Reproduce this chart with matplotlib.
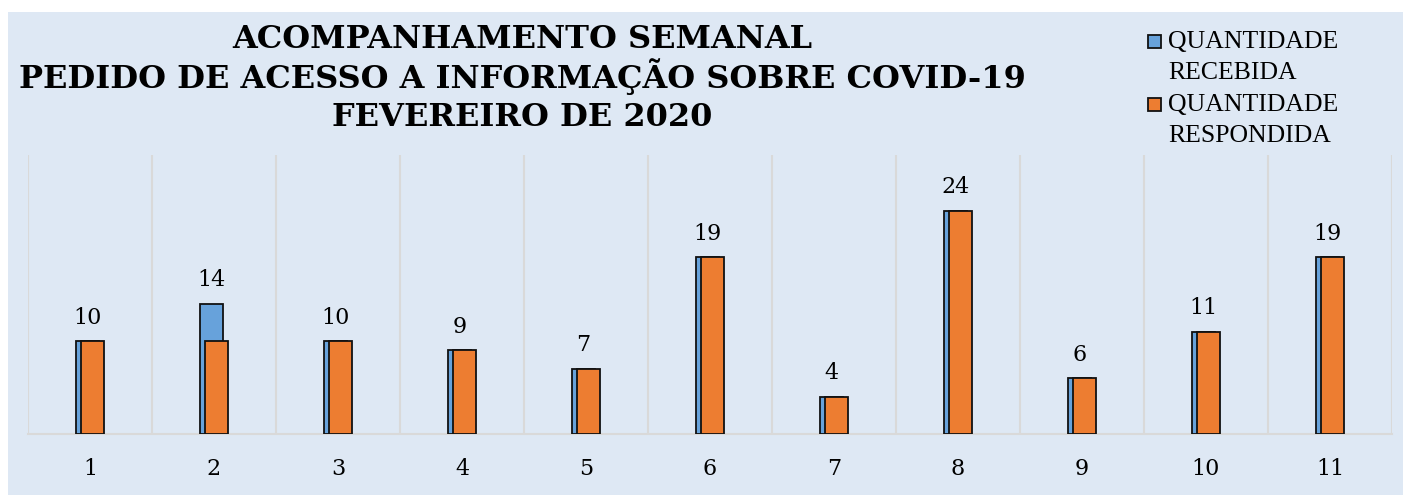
import matplotlib.pyplot as plt
from matplotlib.patches import Rectangle
import numpy as np

# weekly numbers, feb 2020
semanas = ['1', '2', '3', '4', '5', '6', '7', '8', '9', '10', '11']
recebida = [10, 14, 10, 9, 7, 19, 4, 24, 6, 11, 19]
respondida = [10, 10, 10, 9, 7, 19, 4, 24, 6, 11, 19]
titulo = ['ACOMPANHAMENTO SEMANAL',
          'PEDIDO DE ACESSO A INFORMAÇÃO SOBRE COVID-19',
          'FEVEREIRO DE 2020']
legendas = [['QUANTIDADE', 'RECEBIDA'], ['QUANTIDADE', 'RESPONDIDA']]

bg = '#dee8f4'
azul = '#67a2db'
laranja = '#ed7d31'
serif = ['DejaVu Serif']
times = ['Liberation Serif', 'DejaVu Serif']

W, H = 1403, 495
fig = plt.figure(figsize=(W / 100, H / 100), dpi=100)
fig.patch.set_facecolor('white')
fig.patches.append(Rectangle((8 / W, 0), 1, 1 - 12 / H, transform=fig.transFigure,
                             facecolor=bg, edgecolor='none', zorder=-10))

ax = fig.add_axes([28 / W, 61 / H, 1364 / W, 279 / H])
ax.set_facecolor(bg)

x = np.arange(len(semanas))
w = 0.185
d = 0.02
b1 = ax.bar(x - d, recebida, w, color=azul, edgecolor='#111111', linewidth=1.3, zorder=3)
b2 = ax.bar(x + d, respondida, w, color=laranja, edgecolor='#111111', linewidth=1.3, zorder=4)

for xi, v in zip(x, recebida):
    ax.annotate(str(v), (xi - d, v), xytext=(0, 9), textcoords='offset points',
                ha='center', va='bottom', fontsize=16, family=serif)

ax.set_xlim(-0.5, len(semanas) - 0.5)
ax.set_ylim(0, 30)
for b in np.arange(-0.5, len(semanas) + 0.5, 1):
    ax.axvline(b, color='#d9d9d9', linewidth=1.5, zorder=1)
ax.set_xticks(x)
ax.set_xticklabels(semanas, family=serif, fontsize=16)
ax.tick_params(axis='x', length=0, pad=17)
ax.set_yticks([])
for s in ['top', 'left', 'right']:
    ax.spines[s].set_visible(False)
ax.spines['bottom'].set_color('#d9d9d9')
ax.spines['bottom'].set_linewidth(1.5)

for yy, linha in zip([39, 77, 118], titulo):
    fig.text(522 / W, 1 - yy / H, linha, ha='center', va='center',
             fontsize=23, fontweight='bold', family=serif)

# legend drawn by hand: square next to first line of each entry
for y0, cor, txt in zip([42, 105], [azul, laranja], legendas):
    fig.patches.append(Rectangle((1148 / W, 1 - (y0 + 6) / H), 13 / W, 13 / H,
                                 transform=fig.transFigure, facecolor=cor,
                                 edgecolor='#111111', linewidth=1.3))
    for k, t in enumerate(txt):
        fig.text(1168 / W, 1 - (y0 + 31 * k) / H, t, ha='left', va='center',
                 fontsize=18.5, family=times)

fig.savefig('out.png', dpi=100, facecolor=fig.get_facecolor())
